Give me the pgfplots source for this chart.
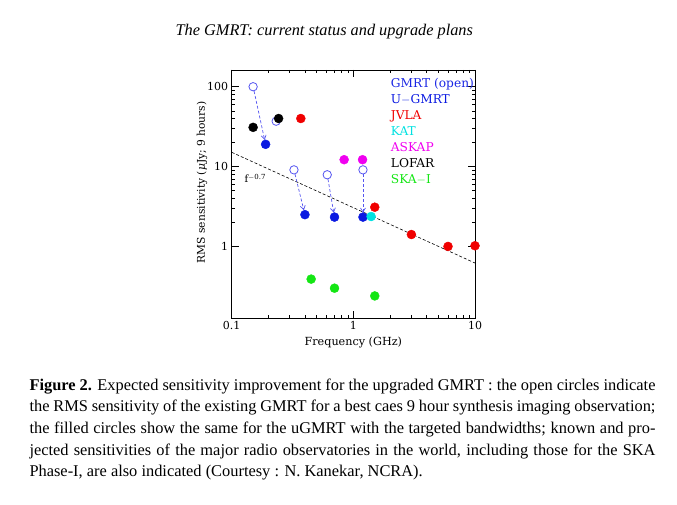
\documentclass[border=0pt]{standalone}
\usepackage{fontspec}
\setmainfont{Liberation Serif}
\newfontfamily\plotfont{DejaVu Serif}
\usepackage{pgfplots}
\pgfplotsset{compat=1.18}
\usetikzlibrary{arrows.meta}
\definecolor{gmrtopen}{RGB}{85,85,240}
\definecolor{ugmrt}{RGB}{10,25,225}
\definecolor{jvla}{RGB}{240,0,0}
\definecolor{kat}{RGB}{0,225,225}
\definecolor{askap}{RGB}{240,0,240}
\definecolor{ska}{RGB}{20,230,20}
\begin{document}
\begin{tikzpicture}
\path[use as bounding box] (0,0) rectangle (677pt,504pt);
\node[anchor=base] at (324.3pt,468pt) {\fontsize{16.3}{19}\selectfont\itshape The GMRT: current status and upgrade plans};
\begin{axis}[
  at={(231.7pt,186pt)}, anchor=south west,
  scale only axis, width=243.3pt, height=248pt,
  xmode=log, ymode=log,
  xmin=0.1, xmax=10, ymin=0.127, ymax=162,
  log ticks with fixed point,
  /pgf/number format/assume math mode=true,
  xtick={0.1,1,10}, ytick={1,10,100},
  ticklabel style={font=\plotfont\fontsize{11}{13}\selectfont},
  major tick length=7pt, minor tick length=3.5pt,
  tick style={black, line width=0.5pt},
  axis line style={line width=0.7pt},
  xlabel={Frequency (GHz)},
  ylabel={RMS sensitivity ({\itshape μ}Jy; 9 hours)},
  xlabel style={font=\plotfont\fontsize{11.2}{13}\selectfont, at={(axis description cs:0.5,-0.1)}, anchor=center},
  ylabel style={font=\plotfont\fontsize{10.7}{12}\selectfont, at={(axis description cs:-0.122,0.547)}, anchor=center},
  clip=false,
]
% power law
\addplot[black, line width=0.6pt, dash pattern=on 3pt off 2pt] coordinates {(0.1,15.1) (10,0.62)};
% arrows
\addplot[gmrtopen, line width=0.7pt, dash pattern=on 3pt off 2pt, shorten <=4.5pt, shorten >=4.5pt, -{Straight Barb[length=4pt,width=5pt]}] coordinates {(0.15,100) (0.19,19)};
\addplot[gmrtopen, line width=0.7pt, dash pattern=on 3pt off 2pt, shorten <=4.5pt, shorten >=4.5pt, -{Straight Barb[length=4pt,width=5pt]}] coordinates {(0.325,9.1) (0.4,2.5)};
\addplot[gmrtopen, line width=0.7pt, dash pattern=on 3pt off 2pt, shorten <=4.5pt, shorten >=4.5pt, -{Straight Barb[length=4pt,width=5pt]}] coordinates {(0.61,7.9) (0.7,2.33)};
\addplot[gmrtopen, line width=0.7pt, dash pattern=on 3pt off 2pt, shorten <=4.5pt, shorten >=4.5pt, -{Straight Barb[length=4pt,width=5pt]}] coordinates {(1.2,9.1) (1.2,2.33)};
% GMRT open
\addplot[only marks, mark=o, mark size=4.2pt, gmrtopen, mark options={line width=0.8pt}] coordinates {(0.15,100) (0.232,37) (0.325,9.1) (0.61,7.9) (1.2,9.1)};
% U-GMRT
\addplot[only marks, mark=*, mark size=4.5pt, ugmrt] coordinates {(0.19,19) (0.4,2.5) (0.7,2.33) (1.2,2.33)};
% JVLA
\addplot[only marks, mark=*, mark size=4.5pt, jvla] coordinates {(0.37,40) (1.5,3.1) (3,1.41) (6,1.0) (10,1.02)};
% KAT
\addplot[only marks, mark=*, mark size=4.5pt, kat] coordinates {(1.4,2.37)};
% ASKAP
\addplot[only marks, mark=*, mark size=4.5pt, askap] coordinates {(0.84,12.2) (1.19,12.2)};
% LOFAR
\addplot[only marks, mark=*, mark size=4.5pt, black] coordinates {(0.15,31) (0.243,40)};
% SKA-I
\addplot[only marks, mark=*, mark size=4.5pt, ska] coordinates {(0.45,0.39) (0.7,0.30) (1.5,0.24)};
\node[anchor=west, inner sep=0] at (axis cs:0.127,7.06) {\plotfont\fontsize{10}{11}\selectfont f\raisebox{0.55ex}{\fontsize{7}{8}\selectfont $-$0.7}};
\end{axis}
% legend
\begin{scope}[every node/.style={anchor=base west, inner sep=0, font=\plotfont\fontsize{12.2}{14}\selectfont}]
\node[text=ugmrt!80!gmrtopen] at (390.7pt,416pt) {GMRT (open)};
\node[text=ugmrt] at (390.7pt,400.1pt) {U$-$GMRT};
\node[text=jvla] at (390.7pt,384.2pt) {JVLA};
\node[text=kat] at (390.7pt,368.3pt) {KAT};
\node[text=askap] at (390.7pt,352.4pt) {ASKAP};
\node[text=black] at (390.7pt,336.5pt) {LOFAR};
\node[text=ska] at (390.7pt,320.6pt) {SKA$-$I};
\end{scope}
% caption
\begin{scope}[every node/.style={anchor=base west, inner sep=0, font=\fontsize{16.4}{19}\selectfont}]
\node at (29.3pt,114pt) {\makebox[626pt][s]{\textbf{Figure 2.} Expected sensitivity improvement for the upgraded GMRT : the open circles indicate}};
\node at (29.3pt,92.3pt) {\makebox[626pt][s]{the RMS sensitivity of the existing GMRT for a best caes 9 hour synthesis imaging observation;}};
\node at (29.3pt,70.6pt) {\makebox[626pt][s]{the filled circles show the same for the uGMRT with the targeted bandwidths; known and pro-}};
\node at (29.3pt,49pt) {\makebox[626pt][s]{jected sensitivities of the major radio observatories in the world, including those for the SKA}};
\node at (29.3pt,27.3pt) {Phase-I, are also indicated (Courtesy : N. Kanekar, NCRA).};
\end{scope}
\end{tikzpicture}
\end{document}
